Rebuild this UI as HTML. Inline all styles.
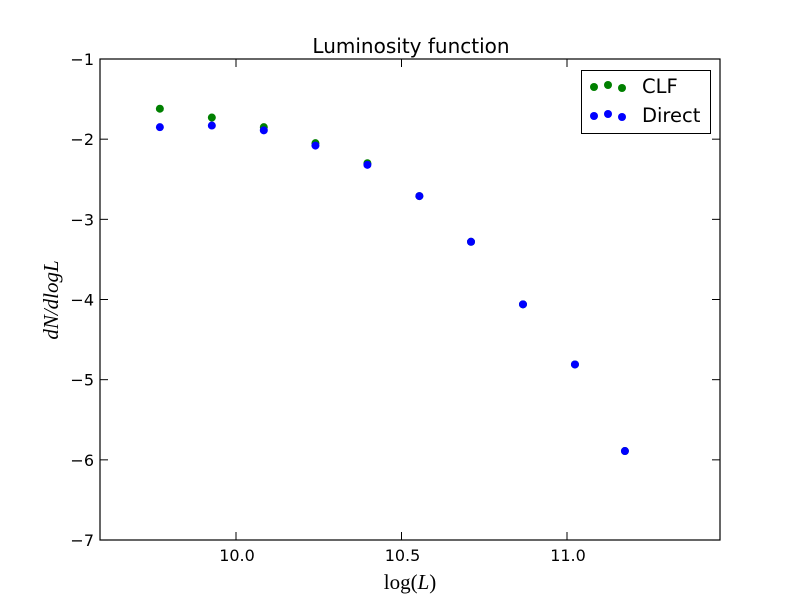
<!DOCTYPE html>
<html><head><meta charset="utf-8"><style>
body{margin:0;background:#fff}
svg text{font-family:"DejaVu Sans","Liberation Sans",sans-serif}
svg text.serif{font-family:"Liberation Serif","DejaVu Serif",serif}
</style></head><body>
<svg id="chart" width="800" height="600">
<rect width="800" height="600" fill="#fff"/>
<text x="411" y="53" font-size="20" text-anchor="middle">Luminosity function</text>
<g id="axes"></g>
<g id="points"></g>
<rect x="100" y="59" width="620" height="481" fill="none" stroke="#000" stroke-width="1.2"/>
<text class="serif" x="410" y="589" font-size="21" text-anchor="middle">log(<tspan font-style="italic">L</tspan>)</text>
<text class="serif" transform="translate(58,300) rotate(-90)" font-size="21" text-anchor="middle" font-style="italic">dN/dlogL</text>
<g>
<rect x="581.5" y="70.5" width="129" height="63" fill="#fff" stroke="#000"/>
<circle cx="594" cy="87" r="4" fill="#008000"/><circle cx="608" cy="85" r="4" fill="#008000"/><circle cx="622" cy="88" r="4" fill="#008000"/>
<text x="642" y="93" font-size="19.5">CLF</text>
<circle cx="594" cy="116" r="4" fill="#0000ff"/><circle cx="608" cy="114" r="4" fill="#0000ff"/><circle cx="622" cy="117" r="4" fill="#0000ff"/>
<text x="642" y="122" font-size="19.5">Direct</text>
</g>
</svg>
<script>
const xValues=[9.77,9.927,10.084,10.24,10.397,10.554,10.71,10.867,11.024,11.175];
const clfValues=[-1.62,-1.73,-1.85,-2.05,-2.30,-2.71,-3.28,-4.06,-4.81,-5.89];
const directValues=[-1.85,-1.83,-1.89,-2.08,-2.32,-2.71,-3.28,-4.06,-4.81,-5.89];
const xTicks=[10.0,10.5,11.0];
const xTickLabels=["10.0","10.5","11.0"];
const yTicks=[-7,-6,-5,-4,-3,-2,-1];
const yTickLabels=["\u22127","\u22126","\u22125","\u22124","\u22123","\u22122","\u22121"];
const NS="http://www.w3.org/2000/svg";
function xs(v){return 236+(v-10)*331;}
function ys(v){return 59+(-1-v)*80.17;}
const axes=document.getElementById('axes'),pts=document.getElementById('points');
function mk(tag,attrs,parent){const e=document.createElementNS(NS,tag);for(const k in attrs)e.setAttribute(k,attrs[k]);parent.appendChild(e);return e;}
xTicks.forEach((t,i)=>{const x=xs(t);
 mk('line',{x1:x,x2:x,y1:540,y2:532,stroke:'#000'},axes);
 mk('line',{x1:x,x2:x,y1:59,y2:67,stroke:'#000'},axes);
 const tx=mk('text',{x:x+1,y:561,'font-size':16,'text-anchor':'middle'},axes);tx.textContent=xTickLabels[i];
 
 });
yTicks.forEach((t,i)=>{const y=ys(t);
 mk('line',{x1:100,x2:108,y1:y,y2:y,stroke:'#000'},axes);
 mk('line',{x1:712,x2:720,y1:y,y2:y,stroke:'#000'},axes);
 const tx=mk('text',{x:94,y:y+6,'font-size':16,'text-anchor':'end'},axes);tx.textContent=yTickLabels[i];
 
 });
xValues.forEach((x,i)=>{const c=mk('circle',{cx:xs(x),cy:ys(clfValues[i]),r:4,fill:'#008000'},pts);
 
 });
xValues.forEach((x,i)=>{const c=mk('circle',{cx:xs(x),cy:ys(directValues[i]),r:4,fill:'#0000ff'},pts);
 
 });
</script>
</body></html>
